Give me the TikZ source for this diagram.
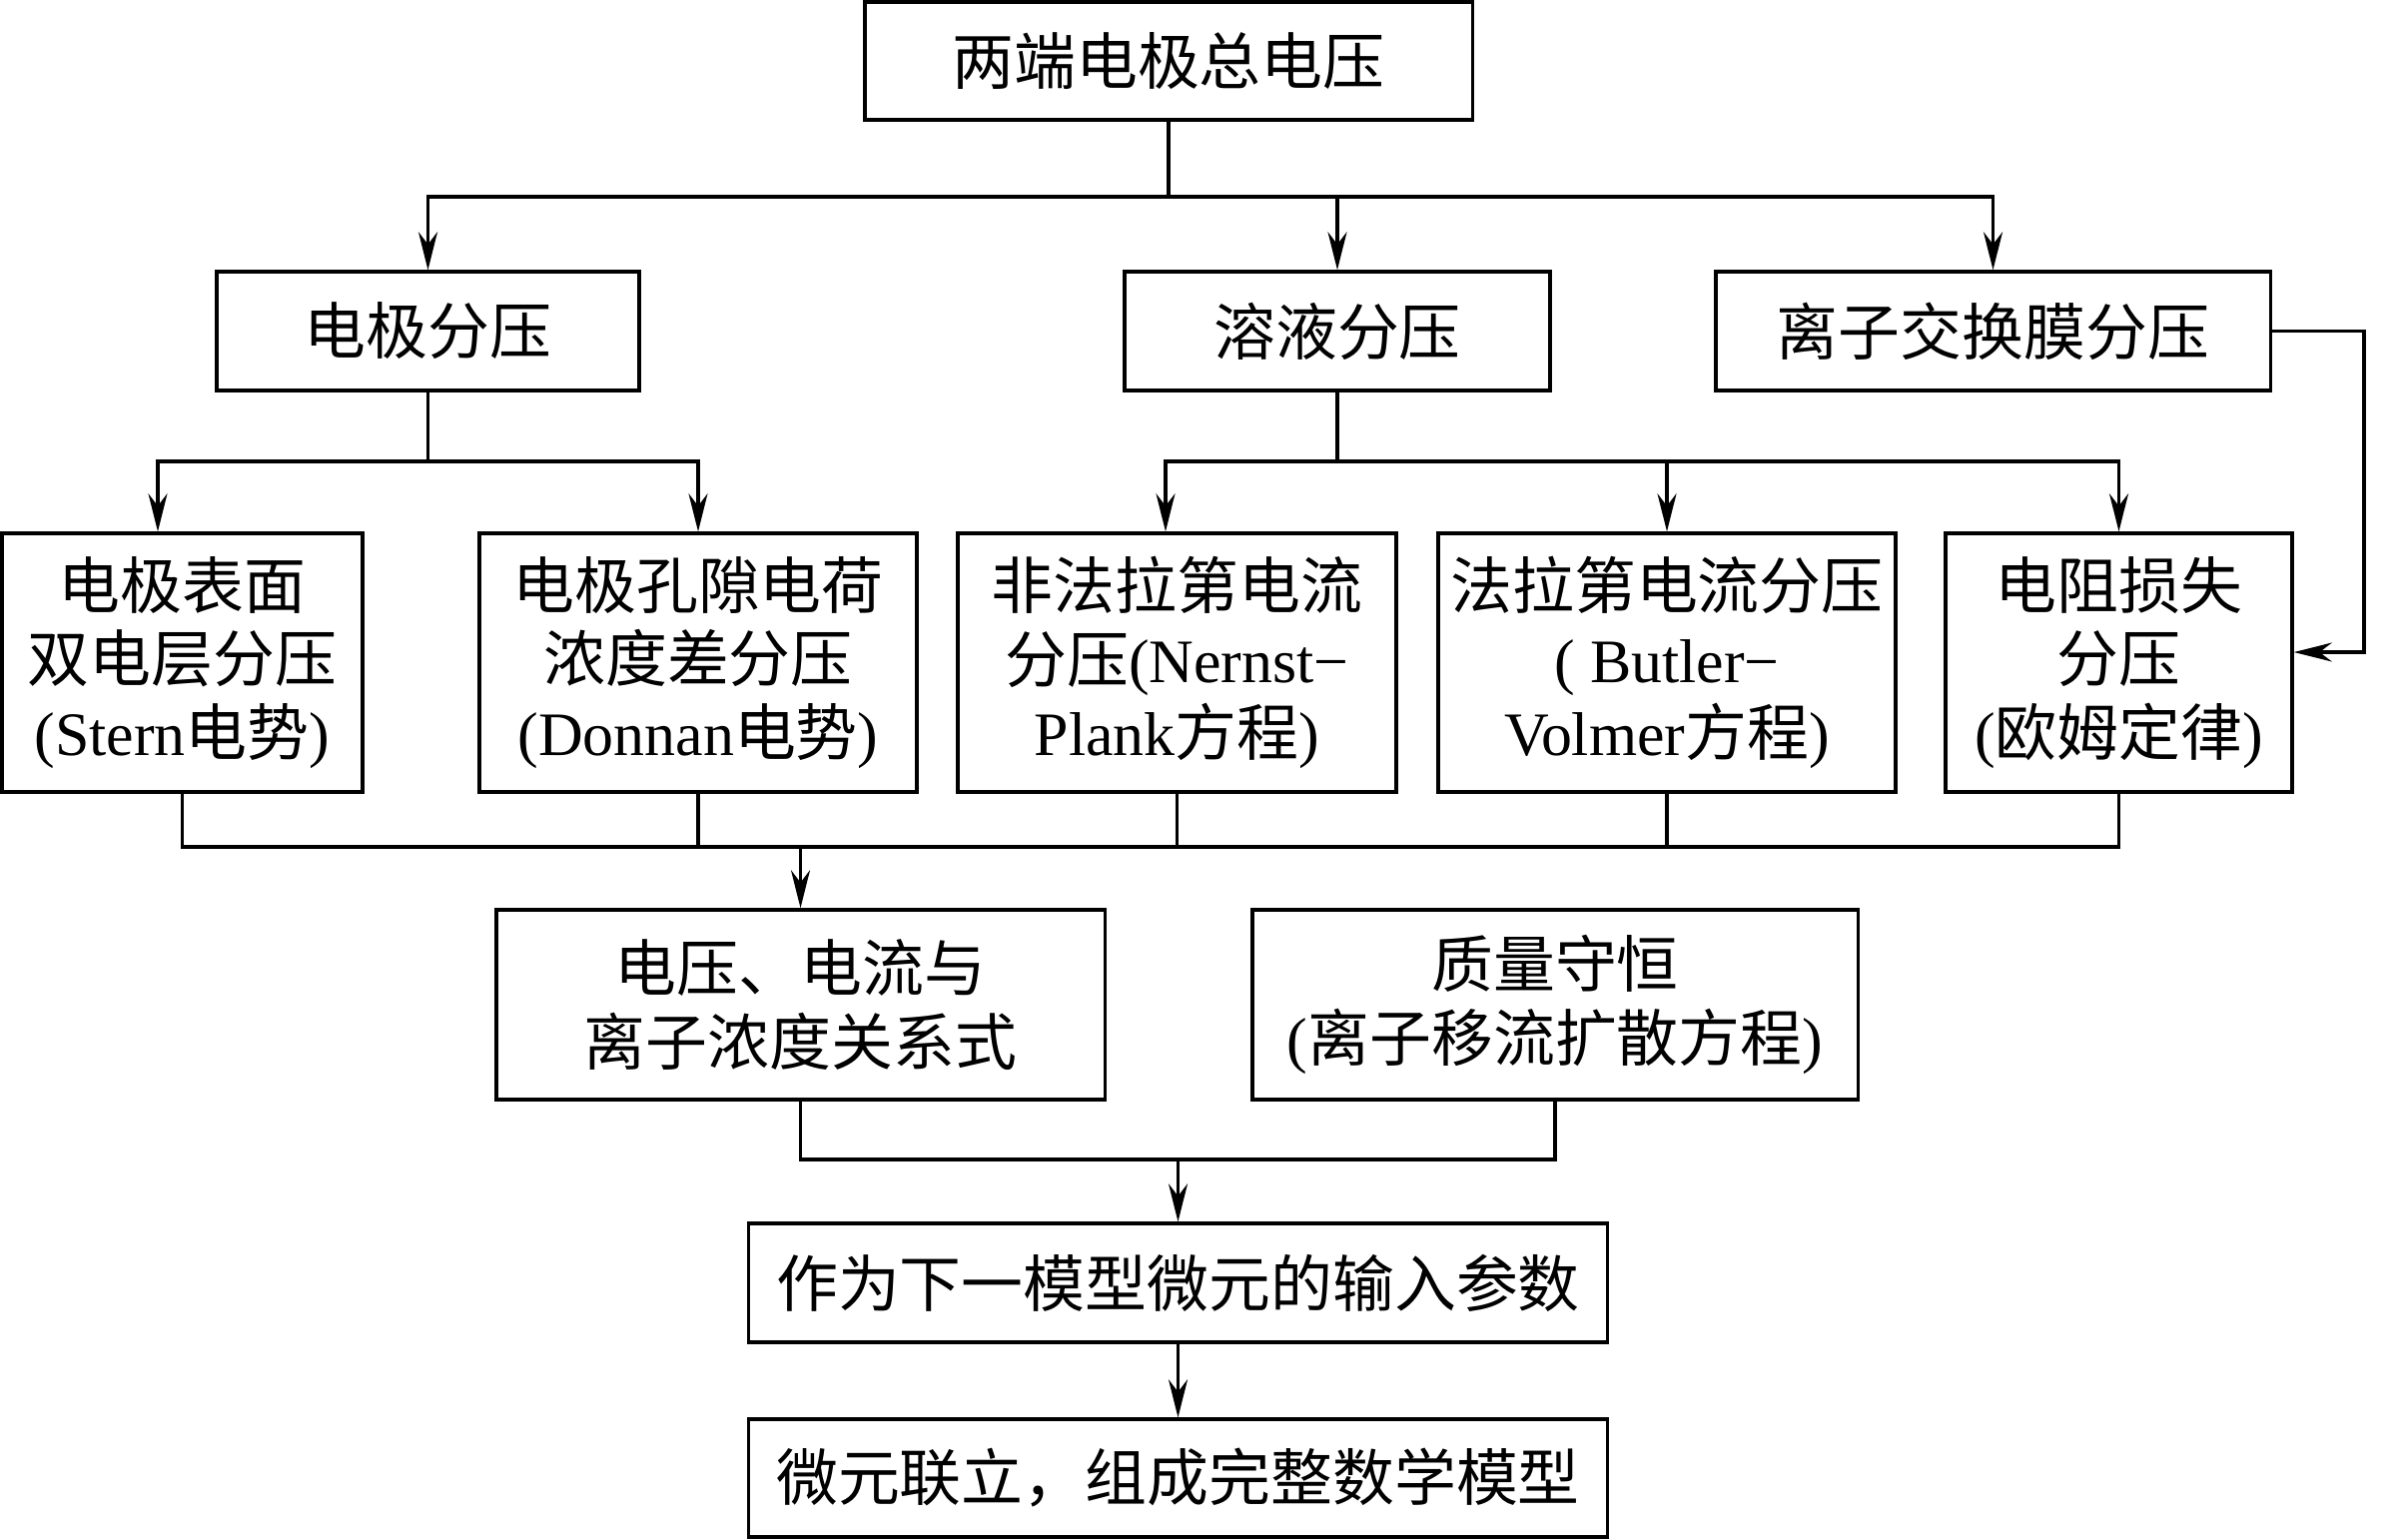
\documentclass[tikz,border=0pt]{standalone}
\usepackage{fontspec}
\setmainfont{Liberation Serif}
\newfontfamily\cjk{Noto Sans CJK SC}
\usepackage{tikz}
\usetikzlibrary{arrows.meta}
\newcommand\latn[1]{{\rmfamily #1}}

\begin{document}
\begin{tikzpicture}[x=0.01cm, y=-0.01cm, line width=0.95pt,
    >={Stealth[length=3.8mm, width=1.9mm]},
    box/.style={draw, inner sep=0pt, align=center,
        font=\cjk\fontsize{17.6pt}{21pt}\selectfont}]
        \useasboundingbox (0,0) rectangle (2403,1541);

        %BARIS 1
        \node[box, minimum width=6.08cm, minimum height=1.18cm] (zd) at (1170,61) {两端电极总电压};

        %BARIS 2
        \node[box, minimum width=4.23cm, minimum height=1.19cm] (djfy) at (428.5,331.5) {电极分压};
        \node[box, minimum width=4.26cm, minimum height=1.19cm] (ryfy) at (1339,331.5) {溶液分压};
        \node[box, minimum width=5.55cm, minimum height=1.19cm] (lzfy) at (1995.5,331.5) {离子交换膜分压};

        %BARIS 3
        \node[box, minimum width=3.61cm, minimum height=2.59cm] (es) at (182.5,663.5) {电极表面\\双电层分压\\\latn{(Stern}电势\latn{)}};
        \node[box, minimum width=4.38cm, minimum height=2.59cm] (kx) at (699,663.5) {电极孔隙电荷\\浓度差分压\\\latn{(Donnan}电势\latn{)}};
        \node[box, minimum width=4.39cm, minimum height=2.59cm] (ff) at (1178.5,663.5) {非法拉第电流\\分压\latn{(Nernst−}\\\latn{Plank}方程\latn{)}};
        \node[box, minimum width=4.58cm, minimum height=2.59cm] (fl) at (1669,663.5) {法拉第电流分压\\\latn{( Butler−}\\\latn{Volmer}方程\latn{)}};
        \node[box, minimum width=3.47cm, minimum height=2.59cm] (dz) at (2121.5,663.5) {电阻损失\\分压\\\latn{(}欧姆定律\latn{)}};

        %BARIS 4
        \node[box, minimum width=6.09cm, minimum height=1.90cm] (dy) at (801.5,1006) {电压、电流与\\离子浓度关系式};
        \node[box, minimum width=6.06cm, minimum height=1.90cm] (zl) at (1557,1006) {质量守恒\\\latn{(}离子移流扩散方程\latn{)}};

        %BARIS 5 DAN 6
        \node[box, minimum width=8.59cm, minimum height=1.19cm] (zw) at (1179.5,1284.5) {作为下一模型微元的输入参数};
        \node[box, minimum width=8.59cm, minimum height=1.18cm] (wy) at (1179.5,1480) {微元联立，组成完整数学模型};

        %TITIK BANTU
        \coordinate (b1) at (0,197);
        \coordinate (b2) at (0,462);
        \coordinate (b3) at (0,848);
        \coordinate (b4) at (0,1161);
        \coordinate (e1) at (158,462);
        \coordinate (f1) at (1167,462);
        \coordinate (r1) at (2367,653);

        %PANAH
        \draw[->] (zd.south) -- (zd.south |- b1) -| (djfy.north);
        \draw[->] (zd.south |- b1) -| (ryfy.north);
        \draw[->] (zd.south |- b1) -| (lzfy.north);

        \draw[->] (djfy.south) -- (djfy.south |- b2) -| (es.north -| e1);
        \draw[->] (djfy.south |- b2) -| (kx.north);
        \draw[->] (ryfy.south) -- (ryfy.south |- b2) -| (ff.north -| f1);
        \draw[->] (ryfy.south |- b2) -| (fl.north);
        \draw[->] (ryfy.south |- b2) -| (dz.north);
        \draw[->] (lzfy.east) -| (r1) -- (r1 -| dz.east);

        \draw (es.south) -- (es.south |- b3) -| (dz.south);
        \draw (kx.south) -- (kx.south |- b3);
        \draw (ff.south) -- (ff.south |- b3);
        \draw (fl.south) -- (fl.south |- b3);
        \draw[->] (dy.north |- b3) -- (dy.north);

        \draw (dy.south) |- (zl.south |- b4) -- (zl.south);
        \draw[->] (zw.north |- b4) -- (zw.north);
        \draw[->] (zw.south) -- (wy.north);
    \end{tikzpicture}
\end{document}
